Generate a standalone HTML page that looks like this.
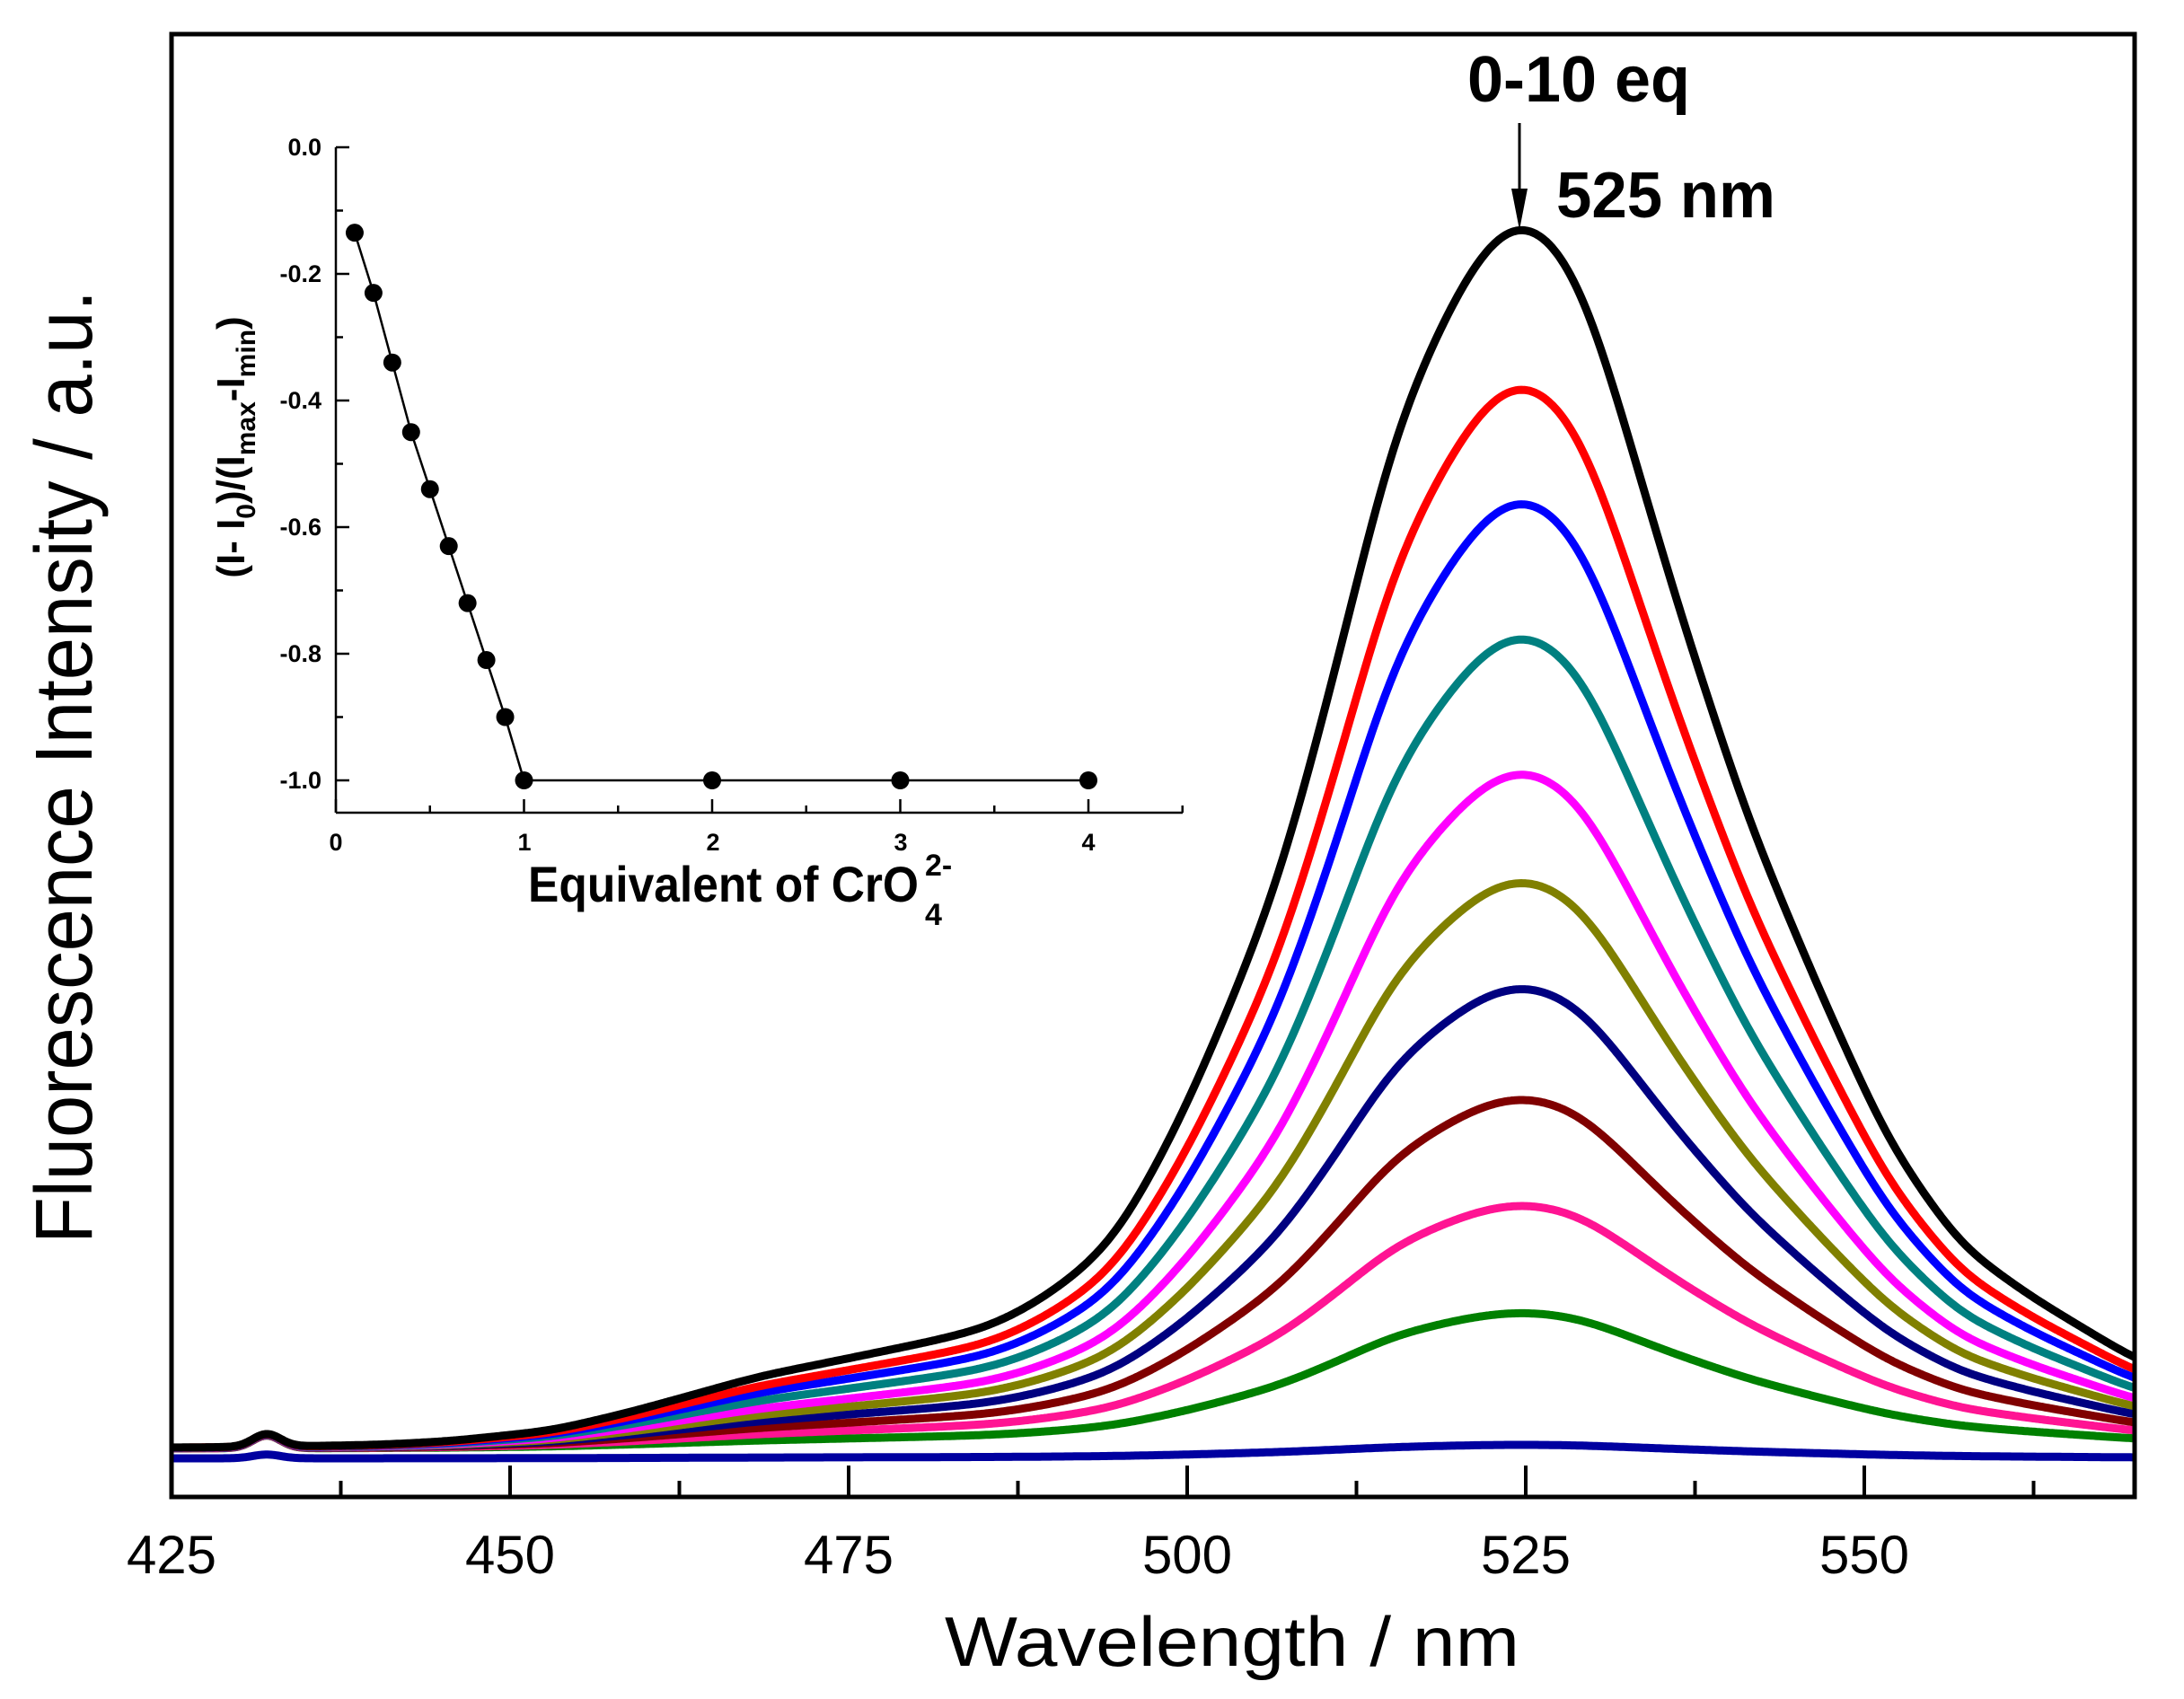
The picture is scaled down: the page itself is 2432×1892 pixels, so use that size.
<!DOCTYPE html>
<html><head><meta charset="utf-8"><style>html,body{margin:0;padding:0;background:#fff}svg{display:block}</style></head>
<body>
<svg id="s" xmlns="http://www.w3.org/2000/svg" width="2432" height="1892" viewBox="0 0 2432 1892" font-family="Liberation Sans, Arial, sans-serif">
<defs><clipPath id="c"><rect x="191" y="38" width="2186" height="1629"/></clipPath></defs>
<rect width="2432" height="1892" fill="#fff"/>
<g id="curves" clip-path="url(#c)" fill="none" stroke-width="9" stroke-linejoin="round" stroke-linecap="round"></g>
<rect x="191" y="38" width="2186" height="1629" fill="none" stroke="#000" stroke-width="5"/>
<g id="ticks" stroke="#000" stroke-width="4"></g>
<g font-size="60" text-anchor="middle" fill="#000">
<text x="191" y="1752">425</text><text x="568" y="1752">450</text><text x="945" y="1752">475</text>
<text x="1322" y="1752">500</text><text x="1699" y="1752">525</text><text x="2076" y="1752">550</text>
</g>
<text x="1372" y="1855" font-size="78" text-anchor="middle" textLength="640" lengthAdjust="spacingAndGlyphs">Wavelength / nm</text>
<text transform="translate(102,854) rotate(-90)" font-size="90" text-anchor="middle" textLength="1062" lengthAdjust="spacingAndGlyphs">Fluorescence Intensity / a.u.</text>
<text x="1634" y="113" font-size="72" font-weight="bold" textLength="248" lengthAdjust="spacingAndGlyphs">0-10 eq</text>
<text x="1733" y="242" font-size="72" font-weight="bold" textLength="244" lengthAdjust="spacingAndGlyphs">525 nm</text>
<line x1="1692" y1="137" x2="1692" y2="220" stroke="#000" stroke-width="3"/>
<polygon points="1683,210 1701,210 1692,256" fill="#000"/>
<g stroke="#000" stroke-width="2.5" fill="none">
<line x1="374" y1="164" x2="374" y2="905"/>
<line x1="374" y1="905" x2="1317" y2="905"/>
</g>
<g id="iticks" stroke="#000" stroke-width="2.5"></g>
<g font-size="27" font-weight="bold" text-anchor="end" fill="#000">
<text x="358" y="173">0.0</text><text x="358" y="314">-0.2</text><text x="358" y="455">-0.4</text>
<text x="358" y="596">-0.6</text><text x="358" y="737">-0.8</text><text x="358" y="878">-1.0</text>
</g>
<g font-size="27" font-weight="bold" text-anchor="middle" fill="#000">
<text x="374" y="947">0</text><text x="584" y="947">1</text><text x="794" y="947">2</text><text x="1003" y="947">3</text><text x="1212" y="947">4</text>
</g>
<text transform="translate(272,498) rotate(-90)" font-size="44" font-weight="bold" text-anchor="middle">(I- I<tspan font-size="30" dy="12">0</tspan><tspan dy="-12">)/(I</tspan><tspan font-size="30" dy="12">max</tspan><tspan dy="-12">-I</tspan><tspan font-size="30" dy="12">min</tspan><tspan dy="-12">)</tspan></text>
<text x="588" y="1004" font-size="56" font-weight="bold" textLength="435" lengthAdjust="spacingAndGlyphs">Equivalent of CrO</text>
<text x="1030" y="975" font-size="34" font-weight="bold">2-</text>
<text x="1030" y="1030" font-size="34" font-weight="bold">4</text>
<g id="inset" fill="#000"></g>
</svg>
<script>
var NS="http://www.w3.org/2000/svg";
function el(p,n,a){var e=document.createElementNS(NS,n);for(var k in a)e.setAttribute(k,a[k]);p.appendChild(e);return e;}
var B=[[100,1612],[191,1612],[300,1611],[420,1609],[500,1605],[615,1593],[700,1573],[758,1557],[844,1533],[948,1512],[1045,1492],[1103,1477],[1160,1447],[1218,1403],[1250,1365],[1281,1310],[1320,1235],[1357,1149],[1400,1045],[1436,940],[1498,703],[1546,504],[1593,385],[1640,295],[1670,256],[1696,246],[1725,260],[1766,328],[1813,485],[1868,674],[1946,912],[2025,1101],[2103,1272],[2182,1386],[2260,1443],[2378,1514],[2500,1560]];
function lin(x){
  for(var i=0;i<B.length-1;i++){if(x<=B[i+1][0])break;}
  if(i>=B.length-1)i=B.length-2;
  var p1=B[i],p2=B[i+1];var t=(x-p1[0])/(p2[0]-p1[0]);
  return p1[1]+(p2[1]-p1[1])*t;
}
var xs=[],raw=[];
for(var x=100;x<=2500;x+=2){xs.push(x);raw.push(lin(x));}
function smooth(a,w){var o=[];for(var i=0;i<a.length;i++){var s=0,n=0;for(var j=-w;j<=w;j++){var k=i+j;if(k>=0&&k<a.length){s+=a[k];n++;}}o.push(s/n);}return o;}
var sm=smooth(smooth(smooth(raw,12),12),8);
var base=1613;
var cols=[["#008000",0.111],["#ff1493",0.199],["#800000",0.286],["#000080",0.377],["#808000",0.464],["#ff00ff",0.553],["#008080",0.664],["#0000ff",0.775],["#ff0000",0.869],["#000000",1]];
var g=document.getElementById("curves");
function bump(x){return 14*Math.exp(-Math.pow((x-297)/22,2));}
function path(f){var d="";for(var i=0;i<xs.length;i++){var x=xs[i];if(x<185||x>2400)continue;d+=(d?"L":"M")+x+","+f(x,sm[i]).toFixed(1);}return d;}
el(g,"path",{d:path(function(x,Y){return 1624-15*(base-Y)/1355-bump(x)*0.3;}),stroke:"#0000a0"});
cols.forEach(function(c){
  el(g,"path",{d:path(function(x,Y){return base-c[1]*(base-Y)-bump(x);}),stroke:c[0]});
});
var t=document.getElementById("ticks");
for(var i=0;i<=11;i++){var x=191+i*188.5;if(x>2377)break;var L=(i%2==0)?35:18;el(t,"line",{x1:x,y1:1667,x2:x,y2:1667-L});}
var it=document.getElementById("iticks");
for(var i=0;i<=10;i++){var y=164+i*70.5;var L=(i%2==0)?15:8;el(it,"line",{x1:374,y1:y,x2:374+L,y2:y});}
for(var i=0;i<=9;i++){var x=374+i*104.75;var L=(i%2==0)?15:8;el(it,"line",{x1:x,y1:905,x2:x,y2:905-L});}
var pts=[[0.1,-0.135],[0.2,-0.23],[0.3,-0.34],[0.4,-0.45],[0.5,-0.54],[0.6,-0.63],[0.7,-0.72],[0.8,-0.81],[0.9,-0.9],[1,-1],[2,-1],[3,-1],[4,-1]];
var ins=document.getElementById("inset");
var pd="";
pts.forEach(function(p,i){var X=374+p[0]*209.5,Y=164-p[1]*705;pd+=(i?"L":"M")+X+","+Y;});
el(ins,"path",{d:pd,stroke:"#000","stroke-width":2.5,fill:"none"});
pts.forEach(function(p){el(ins,"circle",{cx:374+p[0]*209.5,cy:164-p[1]*705,r:10});});
</script>
</body></html>
